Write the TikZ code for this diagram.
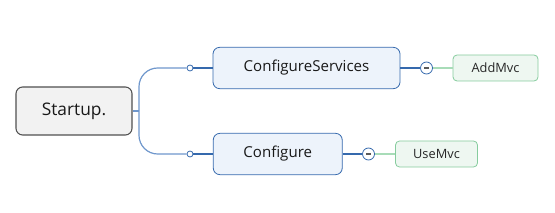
\documentclass[tikz,border=0pt]{standalone}
\usepackage{fontspec}
\setmainfont{Open Sans}
\usepackage{tikz}
\usetikzlibrary{positioning}

\definecolor{rootfill}{HTML}{F2F2F2}
\definecolor{rootline}{HTML}{505050}
\definecolor{topfill}{HTML}{EDF3FB}
\definecolor{topline}{HTML}{3569AD}
\definecolor{branch}{HTML}{6F97CC}
\definecolor{leaffill}{HTML}{EEF7F1}
\definecolor{leafline}{HTML}{86CC9E}
\definecolor{leafbranch}{HTML}{A8DCB8}

\begin{document}
\begin{tikzpicture}[x=0.75pt,y=-0.75pt,
  rootbox/.style={draw=rootline,rounded corners=5pt,fill=rootfill,line width=0.8pt,
    minimum width=87pt,minimum height=36pt,inner sep=0pt,font=\fontsize{13}{15}\selectfont,text=black!90},
  topicbox/.style={draw=topline,rounded corners=5pt,fill=topfill,line width=0.6pt,
    minimum height=31pt,inner sep=0pt,font=\fontsize{11.3}{13}\selectfont,text=black!90},
  leafbox/.style={draw=leafline,rounded corners=3pt,fill=leaffill,line width=0.6pt,
    minimum height=19.5pt,inner sep=0pt,font=\fontsize{9.6}{11}\selectfont,text=black!85},
  knob/.style={circle,draw=topline,fill=white,line width=0.6pt,minimum size=4.5pt,inner sep=0pt},
  fold/.style={circle,draw=topline,fill=white,line width=0.6pt,minimum size=9pt,inner sep=0pt,
    path picture={\fill[black!65] ([xshift=-2.2pt,yshift=-0.8pt]path picture bounding box.center)
      rectangle ([xshift=2.2pt,yshift=0.8pt]path picture bounding box.center);}}]
\useasboundingbox (0,0) rectangle (555,213);

\node[rootbox] (startup) at (74,111) {Startup.};
\node[topicbox,minimum width=140.25pt] (confsvc) at (306.5,68) {ConfigureServices};
\node[topicbox,minimum width=96.75pt] (conf) at (277.75,154) {Configure};
\node[leafbox,minimum width=63.75pt] (addmvc) at (495.5,68) {AddMvc};
\node[leafbox,minimum width=61.5pt] (usemvc) at (436.5,154) {UseMvc};

\node[knob] (k1) at (190,68) {};
\node[knob] (k2) at (190,154) {};
\node[fold] (f1) at (426.5,68) {};
\node[fold] (f2) at (368.5,154) {};
\coordinate (fork) at (139,111);

\draw[branch,line width=0.9pt] (startup) -- (fork);
\draw[branch,line width=0.9pt,rounded corners=14pt] (fork) |- (k1);
\draw[branch,line width=0.9pt,rounded corners=14pt] (fork) |- (k2);
\draw[topline,line width=0.9pt] (k1) -- (confsvc);
\draw[topline,line width=0.9pt] (k2) -- (conf);
\draw[topline,line width=0.9pt] (confsvc) -- (f1);
\draw[topline,line width=0.9pt] (conf) -- (f2);
\draw[leafbranch,line width=1pt] (f1) -- (addmvc);
\draw[leafbranch,line width=1pt] (f2) -- (usemvc);
\end{tikzpicture}
\end{document}
